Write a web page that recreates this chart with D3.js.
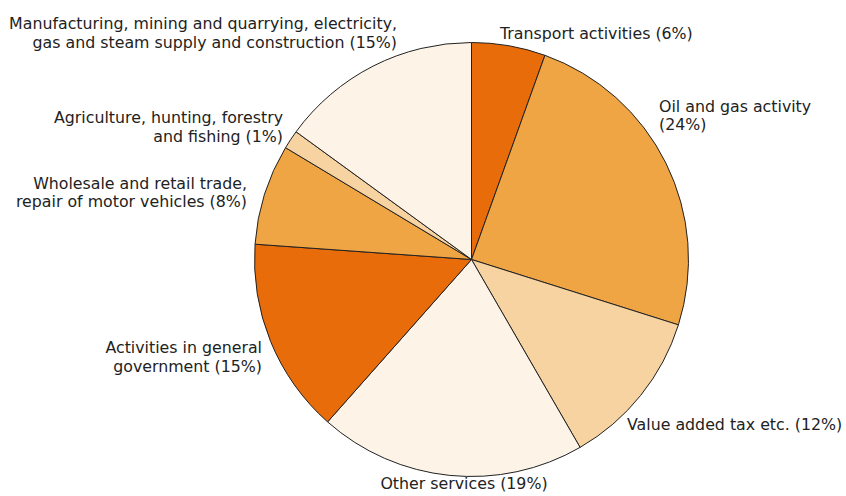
<!DOCTYPE html>
<html>
<head>
<meta charset="utf-8">
<script src="https://cdn.jsdelivr.net/npm/d3@7"></script>
<style>
  body { margin: 0; background: #fff; }
  text { font-family: Verdana, "DejaVu Sans", sans-serif; font-size: 15.8px; fill: #222; }
</style>
</head>
<body>
<div id="chart"></div>
<script>
// sectors, clockwise from 12 o'clock
const categories = [
    "Transport activities",
    "Oil and gas activity",
    "Value added tax etc.",
    "Other services",
    "Activities in general government",
    "Wholesale and retail trade, repair of motor vehicles",
    "Agriculture, hunting, forestry and fishing",
    "Manufacturing, mining and quarrying, electricity, gas and steam supply and construction"
];
const shares = [5.5, 24.4, 11.8, 19.9, 14.6, 7.5, 1.4, 15.0];
const labelLines = [
    ["Transport activities (6%)"],
    ["Oil and gas activity", "(24%)"],
    ["Value added tax etc. (12%)"],
    ["Other services (19%)"],
    ["Activities in general", "government (15%)"],
    ["Wholesale and retail trade,", "repair of motor vehicles (8%)"],
    ["Agriculture, hunting, forestry", "and fishing (1%)"],
    ["Manufacturing, mining and quarrying, electricity,", "gas and steam supply and construction (15%)"]
];
const colors = ["#e96c0b", "#f0a545", "#f7d3a2", "#fdf3e6", "#e96c0b", "#f0a545", "#f7d3a2", "#fdf3e6"];

const width = 846, height = 496;
const cx = 471.5, cy = 259.5, radius = 217;

// label placement
const labelLayout = [
    {x: 500, y: 38.5, anchor: "start"},
    {x: 659, y: 111.5, anchor: "start"},
    {x: 627, y: 430, anchor: "start"},
    {x: 464, y: 489, anchor: "middle"},
    {x: 262, y: 353, anchor: "end"},
    {x: 247, y: 188.5, anchor: "end"},
    {x: 283, y: 123, anchor: "end"},
    {x: 397, y: 29, anchor: "end"}
];
const lineHeight = 18.8;

const svg = d3.select("#chart").append("svg")
    .attr("width", width)
    .attr("height", height);

const g = svg.append("g")
    .attr("transform", `translate(${cx}, ${cy})`);

const pie = d3.pie().sort(null).value(d => d);
const arc = d3.arc().innerRadius(0).outerRadius(radius);

g.selectAll("path")
    .data(pie(shares))
    .enter().append("path")
        .attr("d", arc)
        .attr("fill", (d, i) => colors[i])
        .attr("stroke", "#222")
        .attr("stroke-width", 1)
        .attr("stroke-linejoin", "round");

// labels
const labels = svg.append("g")
    .selectAll("text")
    .data(labelLines)
    .enter().append("text")
        .attr("text-anchor", (d, i) => labelLayout[i].anchor)
        .attr("x", (d, i) => labelLayout[i].x)
        .attr("y", (d, i) => labelLayout[i].y);

labels.selectAll("tspan")
    .data((d, i) => d.map(line => ({line, i})))
    .enter().append("tspan")
        .attr("x", d => labelLayout[d.i].x)
        .attr("dy", (d, j) => j === 0 ? 0 : lineHeight)
        .text(d => d.line);
</script>
</body>
</html>
